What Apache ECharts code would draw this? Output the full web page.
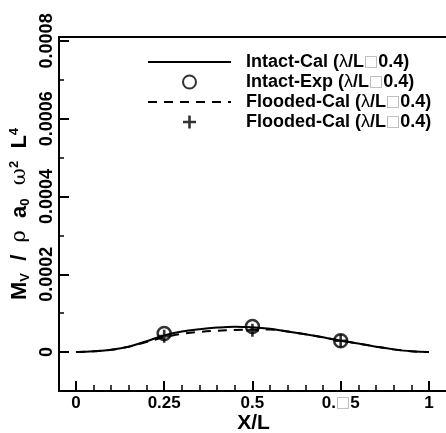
<!DOCTYPE html>
<html>
<head>
<meta charset="utf-8">
<script src="https://cdn.jsdelivr.net/npm/echarts@6/dist/echarts.min.js"></script>
<style>
  html, body { margin: 0; padding: 0; background: #fff; }
  #ec { width: 446px; height: 433px; }
</style>
</head>
<body>
<div id="ec"></div>
<script>
  // X/L stations of the calculated curves
  var xPos = [0, 0.05, 0.1, 0.15, 0.2, 0.25, 0.3, 0.35, 0.4, 0.45, 0.5, 0.55, 0.6, 0.65, 0.7, 0.75, 0.8, 0.85, 0.9, 0.95, 1];
  var intactCal = [0, 0.000002, 0.000006, 0.000014, 0.000028, 0.000043, 0.000053, 0.000059, 0.000063, 0.000065, 0.000064, 0.000060, 0.000053, 0.000046, 0.000038, 0.000029, 0.000022, 0.000014, 0.000007, 0.000002, 0];
  var floodedCal = [0, 0.000002, 0.000006, 0.000014, 0.000026, 0.000038, 0.000047, 0.000052, 0.000055, 0.000057, 0.000058, 0.000058, 0.000053, 0.000046, 0.000038, 0.000030, 0.000022, 0.000014, 0.000007, 0.000002, 0];
  // measured / point values
  var expX = [0.25, 0.5, 0.75];
  var intactExp = [0.000048, 0.000066, 0.000029];
  var floodedPts = [0.000041, 0.000056, 0.000029];
  // ticks
  var xMajor = [0, 0.25, 0.5, 0.75, 1];
  var xLabels = ['0', '0.25', '0.5', '0.{g|□}5', '1'];
  var xMinor = [0.05, 0.1, 0.15, 0.2, 0.3, 0.35, 0.4, 0.45, 0.55, 0.6, 0.65, 0.7, 0.8, 0.85, 0.9, 0.95];
  var yMajor = [0, 0.0002, 0.0004, 0.0006, 0.0008];
  var yLabels = ['0', '0.0002', '0.0004', '0.0006', '0.0008'];
  var yMinor = [0.0001, 0.0003, 0.0005, 0.0007];
  var legendNames = {
    s1: 'Intact-Cal ({l|λ}/L{g|□}0.4)',
    s2: 'Intact-Exp ({l|λ}/L{g|□}0.4)',
    s3: 'Flooded-Cal ({l|λ}/L{g|□}0.4)',
    s4: 'Flooded-Cal ({l|λ}/L{g|□}0.4)'
  };

  var FONT = '"Liberation Sans", Arial, sans-serif';
  var richBits = {
    g: { color: '#b0b0b0', fontWeight: 'normal', fontFamily: '"DejaVu Sans"', fontSize: 15 },
    l: { fontWeight: 'normal', fontFamily: FONT, fontSize: 18, color: '#000' }
  };

  function pairs(xs, ys) {
    return xs.map(function (x, i) { return [x, ys[i]]; });
  }

  var noMark = { color: 'rgba(0,0,0,0)', borderColor: 'rgba(0,0,0,0)', borderWidth: 0 };

  var ec = echarts.init(document.getElementById('ec'));
  ec.setOption({
    animation: false,
    grid: {
      left: 59, right: -2, top: 37, bottom: 42,
      show: true, borderColor: '#000', borderWidth: 2,
      containLabel: false, outerBoundsMode: 'none'
    },
    legend: {
      orient: 'vertical',
      left: 147, top: 53,
      padding: 0,
      itemWidth: 83, itemHeight: 13, itemGap: 2,
      data: ['s1', 's2', 's3', 's4'],
      formatter: function (n) { return legendNames[n]; },
      textStyle: {
        fontFamily: FONT, fontWeight: 'bold', fontSize: 18, color: '#000',
        padding: [0, 0, 0, 10],
        rich: richBits
      }
    },
    xAxis: [{
      type: 'value', min: -0.048, max: 1.054,
      position: 'bottom',
      name: 'X/L', nameLocation: 'middle', nameGap: 22, nameMoveOverlap: false,
      nameTextStyle: { fontFamily: FONT, fontWeight: 'bold', fontSize: 21, color: '#000', verticalAlign: 'top' },
      axisLine: { onZero: false, lineStyle: { color: '#000', width: 2 } },
      axisTick: { inside: true, length: 10, customValues: xMajor, lineStyle: { color: '#000', width: 2 } },
      axisLabel: {
        customValues: xMajor, margin: 4,
        fontFamily: FONT, fontWeight: 'bold', fontSize: 17, color: '#000',
        formatter: function (v) { return xLabels[xMajor.indexOf(v)]; },
        rich: richBits
      },
      splitLine: { show: false }
    }, {
      type: 'value', min: -0.048, max: 1.054,
      position: 'bottom',
      axisLine: { show: false, onZero: false },
      axisTick: { inside: true, length: 6, customValues: xMinor, lineStyle: { color: '#000', width: 1.5 } },
      axisLabel: { show: false },
      splitLine: { show: false }
    }],
    yAxis: [{
      type: 'value', min: -0.0001, max: 0.00081, interval: 0.0001,
      position: 'left',
      name: '{m|M}{s|V}{m|  /  }{k|ρ}{m|  a}{s|0}{k|  ω}{p|2}{m|  L}{p|4}',
      nameLocation: 'middle', nameGap: 27, nameRotate: 90, nameMoveOverlap: false,
      nameTextStyle: {
        fontFamily: FONT, color: '#000',
        rich: {
          m: { fontFamily: FONT, fontWeight: 'bold', fontSize: 22, color: '#000' },
          s: { fontFamily: FONT, fontWeight: 'bold', fontSize: 13, color: '#000', verticalAlign: 'bottom', padding: [9, 0, 0, 0] },
          p: { fontFamily: FONT, fontWeight: 'bold', fontSize: 13, color: '#000', verticalAlign: 'top', padding: [0, 0, 11, 0] },
          k: { fontFamily: '"DejaVu Serif", serif', fontWeight: 'normal', fontSize: 21, color: '#000' }
        }
      },
      axisLine: { onZero: false, lineStyle: { color: '#000', width: 2 } },
      axisTick: { inside: true, length: 10, customValues: yMajor, lineStyle: { color: '#000', width: 2 } },
      axisLabel: {
        customValues: yMajor, rotate: 90, margin: 3,
        fontFamily: FONT, fontWeight: 'bold', fontSize: 18, color: '#000',
        formatter: function (v) { return yLabels[yMajor.indexOf(v)]; }
      },
      splitLine: { show: false }
    }, {
      type: 'value', min: -0.0001, max: 0.00081, interval: 0.0001,
      position: 'left',
      axisLine: { show: false, onZero: false },
      axisTick: { inside: true, length: 5, customValues: yMinor, lineStyle: { color: '#000', width: 1.5 } },
      axisLabel: { show: false },
      splitLine: { show: false }
    }],
    series: [{
      name: 's1', type: 'line', smooth: 0.4, symbol: 'none',
      lineStyle: { color: '#000', width: 2 }, itemStyle: noMark,
      data: pairs(xPos, intactCal), z: 3
    }, {
      name: 's2', type: 'scatter', symbol: 'circle', symbolSize: 13,
      itemStyle: { color: 'rgba(0,0,0,0)', borderColor: '#000', borderWidth: 2.5 },
      data: pairs(expX, intactExp), z: 4
    }, {
      name: 's3', type: 'line', smooth: 0.4, symbol: 'none',
      lineStyle: { color: '#000', width: 2, type: [9, 7] }, itemStyle: noMark,
      data: pairs(xPos, floodedCal), z: 2
    }, {
      name: 's4', type: 'scatter',
      symbol: 'path://M4,0H6V4H10V6H6V10H4V6H0V4H4Z', symbolSize: 13,
      itemStyle: { color: '#000' },
      data: pairs(expX, floodedPts), z: 5
    }]
  });
</script>
</body>
</html>
